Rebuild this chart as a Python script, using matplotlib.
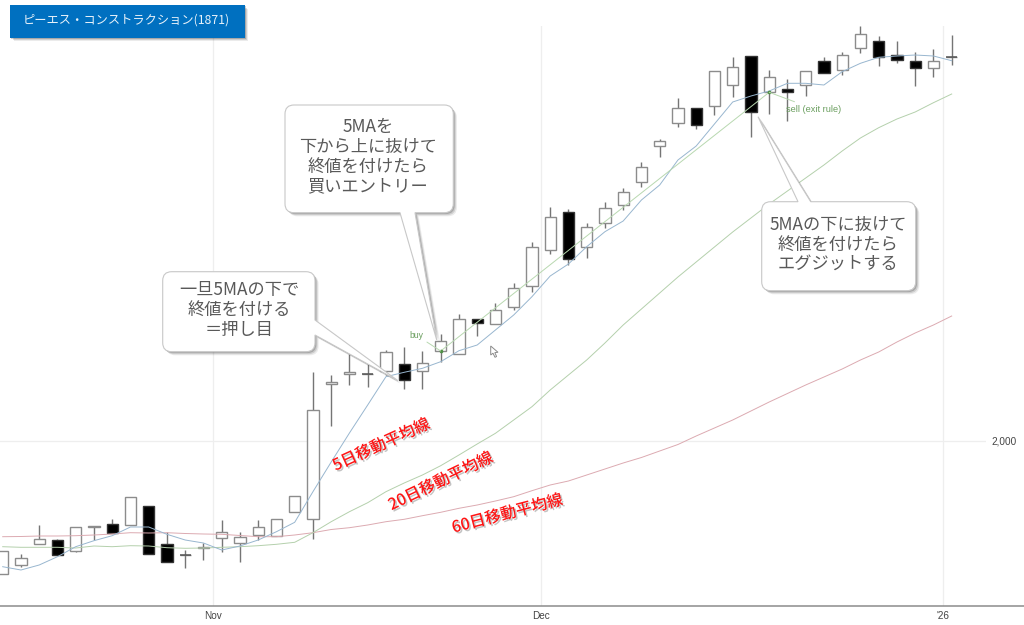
import matplotlib
matplotlib.use('Agg')
import matplotlib.pyplot as plt
import matplotlib.patheffects as pe
from matplotlib.patches import PathPatch, Polygon, Rectangle
from matplotlib.path import Path

plt.rcParams['font.family'] = ['Noto Sans CJK JP', 'DejaVu Sans']

# 日足 (始値, 高値, 安値, 終値)
opens = [1734, 1752, 1794, 1802, 1780, 1828.6, 1834.6, 1832, 1869.4, 1793.4, 1772, 1786, 1806, 1795.4, 1811.4, 1809.4, 1857.4,
         1844.6, 2114, 2134, 2134.6, 2140.6, 2153.4, 2140, 2180, 2173.4, 2244, 2233.4, 2267.4, 2309.4, 2382.6, 2458, 2388,
         2435.4, 2472.6, 2517.4, 2590.6, 2635.4, 2666, 2670, 2712.6, 2769.4, 2697.4, 2703.4, 2711.4, 2760.6, 2742.6, 2786.6,
         2800.6, 2772.6, 2760.6, 2745.4, 2768.6]
highs = [1780, 1774, 1832, 1804, 1828.6, 1830.6, 1843.4, 1887.4, 1869.4, 1818.6, 1782, 1796, 1842, 1817.4, 1841.4, 1843.4, 1889.4,
         2138.6, 2132, 2174, 2155.4, 2182, 2188.6, 2180, 2214, 2253.4, 2244, 2275.4, 2315.4, 2398.6, 2468.6, 2464, 2435.4,
         2477.4, 2506, 2558, 2603.4, 2686.6, 2666, 2740.6, 2767.4, 2769.4, 2742, 2723.4, 2740.6, 2767.4, 2778.6, 2830,
         2810, 2800.6, 2777.4, 2783.4, 2812]
lows = [1734, 1748, 1794, 1772, 1778, 1802, 1815.4, 1832, 1773.4, 1758.6, 1746, 1762, 1777.4, 1757.4, 1802, 1809.4, 1857.4,
        1803.4, 2030.6, 2112, 2108.6, 2132, 2103.4, 2104, 2158.6, 2173.4, 2210.6, 2233.4, 2262, 2298.6, 2374, 2352, 2365.4,
        2426.6, 2462, 2508.6, 2567.4, 2627.4, 2623.4, 2651.4, 2688.6, 2607.4, 2654, 2640.6, 2690, 2735.4, 2732, 2775.4,
        2750, 2756.6, 2710, 2728.6, 2752]
closes = [1780, 1765.4, 1803.4, 1772, 1828.6, 1830.6, 1815.4, 1887.4, 1773.4, 1758.6, 1772, 1788.6, 1817.4, 1807.4, 1828, 1843.4, 1889.4,
          2062, 2117.4, 2138.6, 2134.6, 2177.4, 2122, 2156.6, 2200.6, 2243.4, 2235.4, 2262.6, 2306.6, 2388, 2448.6, 2363.4, 2428.6,
          2466.6, 2498, 2548.6, 2599.4, 2666.6, 2631.4, 2740.6, 2748.6, 2658.6, 2728.6, 2697.4, 2740.6, 2735.4, 2772, 2813.4,
          2767.4, 2762, 2745.4, 2759.4, 2768.6]

# 移動平均線
ma5 = [1748.6, 1742, 1752, 1768.6, 1788.6, 1800.6, 1810.6, 1828, 1828, 1813.4, 1802, 1796, 1782, 1790, 1802, 1818.6, 1837.4,
       1898.6, 1958, 2016, 2072, 2128.6, 2137.4, 2145.4, 2158.6, 2180.6, 2192, 2222, 2252, 2288.6, 2330, 2354, 2388.6,
       2418.6, 2440, 2482, 2512, 2562, 2590, 2634, 2678, 2690, 2700, 2715.4, 2715.4, 2712, 2738.6, 2755.4, 2767.4, 2770,
       2772, 2770, 2760.6]
ma20 = [1788.6, 1787.4, 1787.4, 1787.4, 1786, 1790, 1788.6, 1790.6, 1790, 1786.6, 1785.4, 1786, 1787.4, 1788.6, 1790.6, 1793.4, 1797.4,
        1816.6, 1838.6, 1858.6, 1876.6, 1898.6, 1916, 1932, 1950.6, 1972, 1994, 2015.4, 2042, 2068.6, 2102, 2132, 2162,
        2196, 2232, 2264, 2296, 2328, 2358, 2388, 2418, 2446, 2474, 2500, 2526, 2552, 2580, 2606, 2626.6, 2644, 2658, 2676.6, 2694]
ma60 = [1808.6, 1809, 1810, 1810, 1810.6, 1812, 1814, 1816.6, 1816, 1816.6, 1815, 1814, 1813.4, 1811, 1808.6, 1808.6, 1812,
        1816.6, 1823, 1826.6, 1832, 1838.6, 1843.4, 1850.6, 1857.4, 1865.4, 1872, 1880, 1888.6, 1900.6, 1912, 1920, 1932,
        1944, 1956, 1967, 1980, 1993, 2010, 2026, 2042, 2060, 2078, 2095, 2112, 2128, 2144, 2162, 2178, 2198, 2216, 2232, 2250]

date_ticks = [11.5, 29.5, 51.55]
date_labels = ['Nov', 'Dec', "'26"]
price_ticks = [2000]
price_labels = ['2,000']
buy_idx, sell_idx = 24, 42
title = 'ピーエス・コンストラクション(1871)'

W, H = 1024, 625
fig = plt.figure(figsize=(W / 100, H / 100), dpi=100)

# チャート本体
ax = fig.add_axes([0, 1 - 605.7 / H, 986 / W, (605.7 - 26) / H])
ax.set_xlim(-0.148, 53.88)
ax.set_ylim(1670.6, 2830)
for s in ax.spines.values():
    s.set_visible(False)
ax.grid(True, color='#eeeeee', lw=0.9)
ax.set_axisbelow(True)
ax.set_xticks(date_ticks, date_labels, family='Liberation Sans', fontsize=7.2, color='#444444')
ax.set_yticks(price_ticks, price_labels, family='Liberation Sans', fontsize=7.2, color='#444444')
ax.yaxis.tick_right()
ax.tick_params(length=0)
ax.tick_params(axis='x', pad=3.5)
ax.tick_params(axis='y', pad=4)

idx = list(range(len(opens)))
ax.vlines(idx, lows, highs, color='#757575', lw=1.0, zorder=2)
for i in idx:
    up = closes[i] >= opens[i]
    bottom, height = min(opens[i], closes[i]), abs(closes[i] - opens[i])
    ax.bar(i, height, bottom=bottom, width=0.62, color='white' if up else 'black',
           edgecolor='#8c8c8c' if up else '#333333', lw=1.0, zorder=3)
    if height == 0:
        ax.hlines(opens[i], i - 0.31, i + 0.31, color='#555555', lw=1.1, zorder=3)

ax.plot(idx, ma60, color='#dcaab1', lw=0.7, zorder=4)
ax.plot(idx, ma20, color='#b4d0ac', lw=0.7, zorder=4)
ax.plot(idx, ma5, color='#98b6cf', lw=0.7, zorder=4)

# 売買シグナル
ax.plot([buy_idx, sell_idx], [opens[buy_idx], opens[sell_idx]], color='#b8d8b0', lw=0.7, zorder=4)
ax.plot([buy_idx, sell_idx], [opens[buy_idx], opens[sell_idx]], ls='', marker='o', ms=1.6, color='#4f8f45', zorder=5)
ax.annotate('buy', xy=(buy_idx, opens[buy_idx]), xytext=(416, 625 - 335), textcoords='figure pixels',
            family='Liberation Sans', fontsize=6.2, color='#6a9e5e', ha='center', va='center',
            arrowprops=dict(arrowstyle='-', color='#b8d8b0', lw=0.7, shrinkA=1, shrinkB=0), zorder=5)
ax.annotate('sell (exit rule)', xy=(sell_idx, opens[sell_idx]), xytext=(786.5, 625 - 109), textcoords='figure pixels',
            family='Liberation Sans', fontsize=6.6, color='#6a9e5e', ha='left', va='center',
            arrowprops=dict(arrowstyle='-', color='#b8d8b0', lw=0.7, shrinkA=0, shrinkB=0), zorder=5)

# 吹き出しなどはピクセル座標で重ねる
ov = fig.add_axes([0, 0, 1, 1], zorder=10)
ov.set_xlim(0, W)
ov.set_ylim(H, 0)
ov.axis('off')
ov.patch.set_alpha(0)
ov.plot([0, W], [605.7, 605.7], color='#8c8c8c', lw=1.1)


def soft_shadow():
    return [pe.SimplePatchShadow(offset=(2.6, -2.6), shadow_rgbFace='#000000', alpha=0.08),
            pe.SimplePatchShadow(offset=(1.8, -1.8), shadow_rgbFace='#000000', alpha=0.12),
            pe.SimplePatchShadow(offset=(1.0, -1.0), shadow_rgbFace='#000000', alpha=0.18),
            pe.Normal()]


def callout(x0, y0, x1, y1, side, base_a, base_b, tip, r=9):
    # 角丸の箱 + しっぽ (時計回り)
    v = [(x0 + r, y0)]
    c = [Path.MOVETO]
    if side == 'top':
        v += [(base_a, y0), tip, (base_b, y0)]
        c += [Path.LINETO] * 3
    v += [(x1 - r, y0), (x1, y0), (x1, y0 + r)]
    c += [Path.LINETO, Path.CURVE3, Path.CURVE3]
    if side == 'right':
        v += [(x1, base_a), tip, (x1, base_b)]
        c += [Path.LINETO] * 3
    v += [(x1, y1 - r), (x1, y1), (x1 - r, y1)]
    c += [Path.LINETO, Path.CURVE3, Path.CURVE3]
    if side == 'bottom':
        v += [(base_b, y1), tip, (base_a, y1)]
        c += [Path.LINETO] * 3
    v += [(x0 + r, y1), (x0, y1), (x0, y1 - r), (x0, y0 + r), (x0, y0), (x0 + r, y0), (x0 + r, y0)]
    c += [Path.LINETO, Path.CURVE3, Path.CURVE3, Path.LINETO, Path.CURVE3, Path.CURVE3, Path.CLOSEPOLY]
    p = PathPatch(Path(v, c), facecolor='white', edgecolor='#c8c8c8', lw=0.8, zorder=20)
    p.set_path_effects(soft_shadow())
    ov.add_patch(p)


def note(cx, ys, lines):
    for y, s in zip(ys, lines):
        ov.text(cx, y, s, fontsize=12.4, color='#595959', ha='center', va='center', zorder=21)


callout(162.7, 271.7, 315, 351.7, 'right', 320, 335, (398, 380.7))
note(239, [290, 310, 330], ['一旦5MAの下で', '終値を付ける', '＝押し目'])
callout(285, 105, 453.3, 212.7, 'bottom', 400, 415, (436.7, 340))
note(368, [126.7, 146.7, 166.7, 186.7], ['5MAを', '下から上に抜けて', '終値を付けたら', '買いエントリー'])
callout(761.7, 201.7, 915.7, 290.7, 'top', 798, 810.7, (758, 116.7))
note(838, [225, 245, 264], ['5MAの下に抜けて', '終値を付けたら', 'エグジットする'])

# 移動平均線の名前
red_shadow = [pe.SimplePatchShadow(offset=(1.2, -1.2), shadow_rgbFace='#888888', alpha=0.5), pe.Normal()]
for cx, cy, ang, s in [(381.5, 445, 24.5, '5日移動平均線'), (441, 481.5, 25.8, '20日移動平均線'), (507.5, 514, 14.6, '60日移動平均線')]:
    ov.text(cx, cy, s, fontsize=11.5, color='#ff1414', weight='medium', rotation=ang, rotation_mode='anchor',
            ha='center', va='center', zorder=21, path_effects=red_shadow)

# タイトル
box = Rectangle((10, 5), 234.5, 32.5, facecolor='#0070c0', edgecolor='none', zorder=20)
box.set_path_effects(soft_shadow())
ov.add_patch(box)
ov.text(126.5, 20.5, title, fontsize=8.8, color='#e8f2fa', ha='center', va='center', zorder=21)

# マウスカーソル
ov.add_patch(Polygon([(490.7, 346), (490.7, 355), (493, 353.2), (495, 357.3), (496.6, 356.5), (494.8, 352.6), (498, 352.3)],
                     closed=True, facecolor='white', edgecolor='#8a8a8a', lw=0.7, zorder=6))

fig.savefig('out.png', dpi=100)
